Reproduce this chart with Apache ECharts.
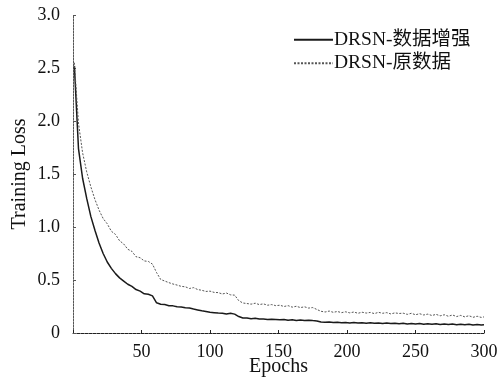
<!DOCTYPE html>
<html>
<head>
<meta charset="utf-8">
<script src="https://cdn.jsdelivr.net/npm/echarts@6/dist/echarts.min.js"></script>
<style>
  html, body { margin: 0; padding: 0; background: #fff; }
  #main { width: 501px; height: 378px; }
</style>
</head>
<body>
<div id="main"></div>
<script>
'use strict';
// 训练损失曲线

var epochs = [
  1, 4, 7, 10, 13, 16, 19, 22, 25, 28,
  31, 34, 37, 40, 43, 46, 49, 52, 55, 58,
  61, 64, 67, 70, 73, 76, 79, 82, 85, 88,
  91, 94, 97, 100, 103, 106, 109, 112, 115, 118,
  121, 124, 127, 130, 133, 136, 139, 142, 145, 148,
  151, 154, 157, 160, 163, 166, 169, 172, 175, 178,
  181, 184, 187, 190, 193, 196, 199, 202, 205, 208,
  211, 214, 217, 220, 223, 226, 229, 232, 235, 238,
  241, 244, 247, 250, 253, 256, 259, 262, 265, 268,
  271, 274, 277, 280, 283, 286, 289, 292, 295, 298, 300
];

// DRSN-数据增强
var lossAug = [
  2.52, 1.74, 1.46, 1.27, 1.10, 0.97, 0.85, 0.75, 0.67, 0.61,
  0.56, 0.52, 0.49, 0.46, 0.44, 0.41, 0.395, 0.37, 0.365, 0.35,
  0.285, 0.272, 0.268, 0.258, 0.256, 0.248, 0.246, 0.238, 0.236, 0.226,
  0.218, 0.21, 0.203, 0.196, 0.192, 0.188, 0.186, 0.179, 0.186, 0.178,
  0.155, 0.142, 0.141, 0.134, 0.139, 0.133, 0.131, 0.128, 0.13, 0.127,
  0.124, 0.127, 0.12, 0.125, 0.118, 0.123, 0.117, 0.121, 0.117, 0.114,
  0.104, 0.101, 0.104, 0.099, 0.102, 0.097, 0.1, 0.095, 0.099, 0.094,
  0.097, 0.092, 0.096, 0.091, 0.095, 0.09, 0.094, 0.089, 0.093, 0.088,
  0.091, 0.086, 0.09, 0.085, 0.089, 0.083, 0.088, 0.082, 0.087, 0.081,
  0.085, 0.08, 0.084, 0.078, 0.083, 0.077, 0.082, 0.076, 0.08, 0.076, 0.078
];

// DRSN-原数据
var lossRaw = [
  2.55, 1.98, 1.70, 1.52, 1.38, 1.26, 1.16, 1.08, 1.03, 0.96,
  0.93, 0.87, 0.84, 0.79, 0.77, 0.72, 0.71, 0.68, 0.675, 0.65,
  0.57, 0.505, 0.49, 0.475, 0.462, 0.452, 0.44, 0.436, 0.42, 0.428,
  0.41, 0.403, 0.392, 0.395, 0.383, 0.381, 0.368, 0.377, 0.36, 0.357,
  0.305, 0.283, 0.278, 0.272, 0.281, 0.268, 0.275, 0.262, 0.268, 0.258,
  0.262, 0.25, 0.258, 0.244, 0.252, 0.24, 0.247, 0.235, 0.24, 0.222,
  0.205, 0.198, 0.207, 0.195, 0.203, 0.192, 0.2, 0.19, 0.198, 0.186,
  0.196, 0.188, 0.194, 0.183, 0.195, 0.186, 0.192, 0.18, 0.19, 0.184,
  0.187, 0.176, 0.186, 0.172, 0.182, 0.17, 0.178, 0.165, 0.176, 0.162,
  0.172, 0.158, 0.17, 0.155, 0.166, 0.152, 0.163, 0.148, 0.158, 0.147, 0.152
];

var yTicks = [0, 0.5, 1.0, 1.5, 2.0, 2.5, 3.0];
var xTicks = [50, 100, 150, 200, 250, 300];

function pairs (xs, ys) {
  return xs.map(function (x, i) { return [x, ys[i]]; });
}

var font = '"Liberation Serif", "Noto Sans CJK SC", serif';

var myChart = echarts.init(document.getElementById('main'));
var option = {
  backgroundColor: '#fff',
  animation: false,
  grid: { left: 73, right: 17, top: 15, bottom: 45, outerBoundsMode: 'none' },
  legend: {
    orient: 'vertical',
    left: 288,
    top: 25,
    itemWidth: 39,
    itemHeight: 10,
    itemGap: 4,
    itemStyle: { opacity: 0 },
    textStyle: { fontFamily: font, fontSize: 19.5, color: '#111', padding: [0, 0, 0, -4] },
    data: ['DRSN-数据增强', 'DRSN-原数据']
  },
  xAxis: {
    type: 'value',
    min: 0,
    max: 300,
    interval: 50,
    name: 'Epochs',
    nameLocation: 'middle',
    nameMoveOverlap: false,
    nameGap: 24,
    nameTextStyle: { fontFamily: font, fontSize: 20, color: '#111' },
    axisLine: { lineStyle: { color: '#222', width: 1, type: [3, 1] } },
    axisTick: { inside: true, length: 3, lineStyle: { color: '#222' } },
    axisLabel: {
      fontFamily: font, fontSize: 18, color: '#111', margin: 10,
      formatter: function (v) { return xTicks.indexOf(v) >= 0 ? String(v) : ''; }
    },
    splitLine: { show: false }
  },
  yAxis: {
    type: 'value',
    min: 0,
    max: 3,
    interval: 0.5,
    name: 'Training Loss',
    nameLocation: 'middle',
    nameMoveOverlap: false,
    nameGap: 43,
    nameTextStyle: { fontFamily: font, fontSize: 20, color: '#111' },
    axisLine: { lineStyle: { color: '#555', width: 1, type: [2, 1] } },
    axisTick: { inside: true, length: 3, lineStyle: { color: '#555' } },
    axisLabel: {
      fontFamily: font, fontSize: 18, color: '#111', margin: 13,
      formatter: function (v) {
        if (yTicks.indexOf(v) < 0) return '';
        return v === 0 ? '0' : v.toFixed(1);
      }
    },
    splitLine: { show: false }
  },
  series: [
    {
      name: 'DRSN-数据增强',
      type: 'line',
      symbol: 'none',
      data: pairs(epochs, lossAug),
      lineStyle: { color: '#1a1a1a', width: 1.5 },
      itemStyle: { color: '#1a1a1a' }
    },
    {
      name: 'DRSN-原数据',
      type: 'line',
      symbol: 'none',
      data: pairs(epochs, lossRaw),
      lineStyle: { color: '#555', width: 1, type: [2, 1.5] },
      itemStyle: { color: '#555' }
    }
  ]
};
myChart.setOption(option);
</script>
</body>
</html>
